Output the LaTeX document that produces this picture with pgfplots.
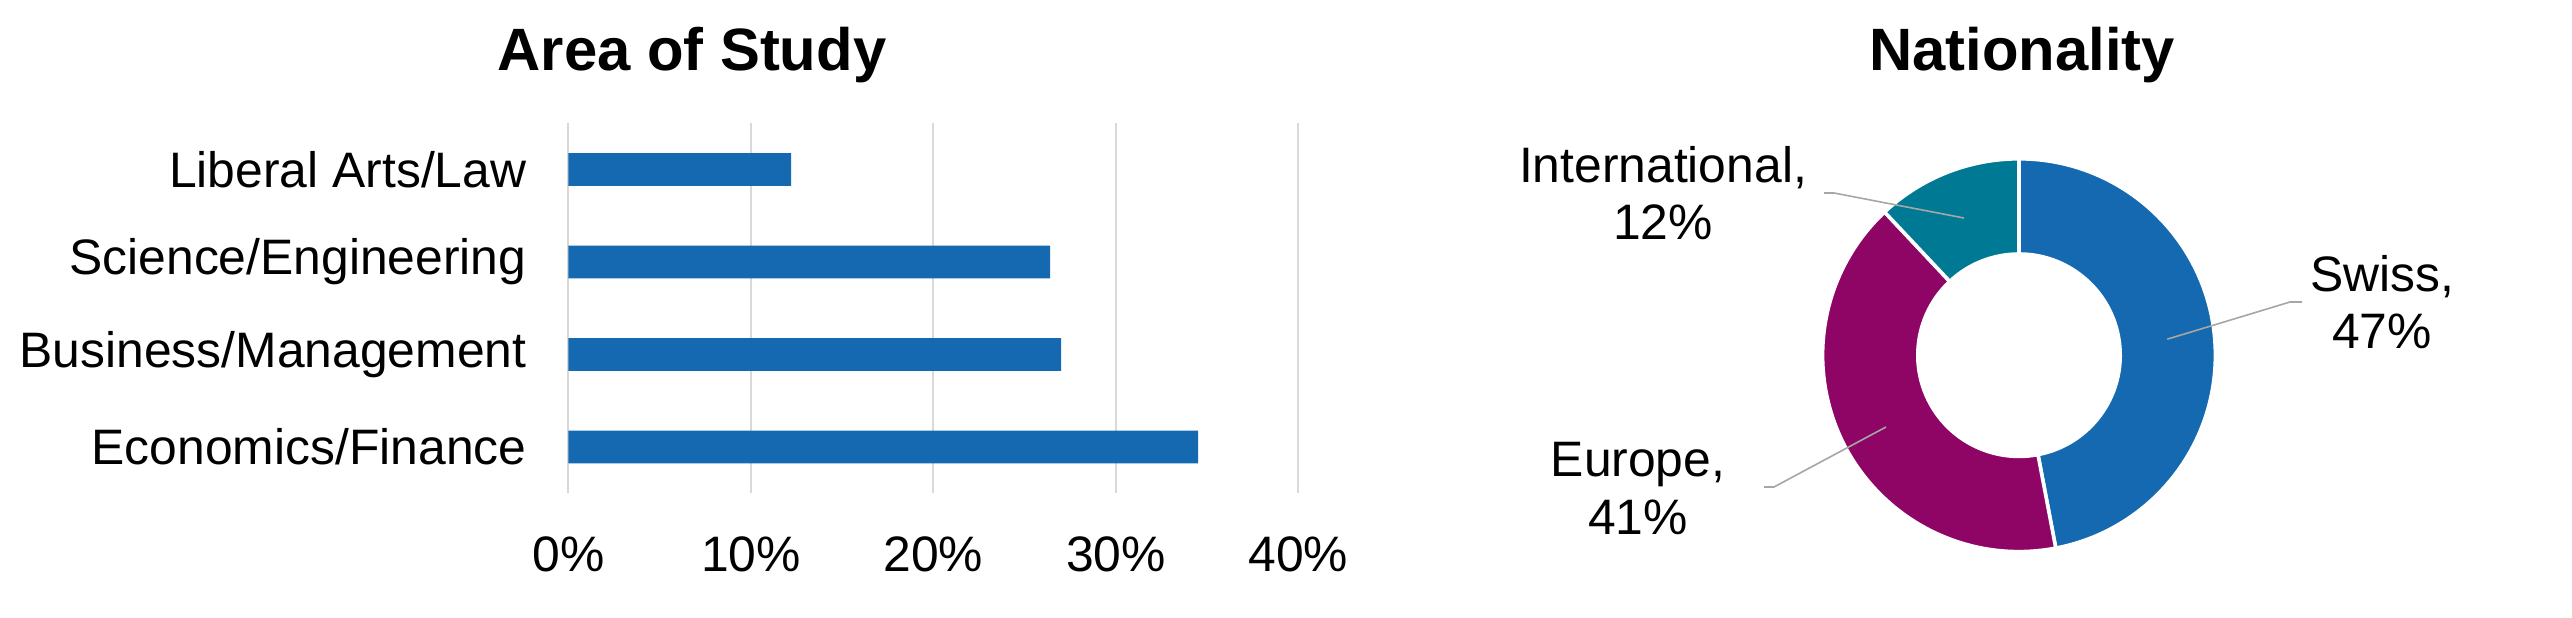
\documentclass[border=0pt]{standalone}
\usepackage{pgfplots}
\pgfplotsset{compat=1.18}
\usepackage{pgfplotstable}
\usepackage{fontspec}
\setmainfont{Liberation Sans}

\definecolor{barblue}{HTML}{1569B0}
\definecolor{swiss}{HTML}{1569B0}
\definecolor{europe}{HTML}{8E0565}
\definecolor{intl}{HTML}{007A94}
\definecolor{gridgray}{HTML}{D9D9D9}
\definecolor{leader}{HTML}{A6A6A6}

% area of study, share in %
\pgfplotstableread{
pos share
3 12.2
2 26.4
1 27.0
0 34.5
}\studytable

% nationality, share in %
\pgfplotstableread{
label value
Swiss 47
Europe 41
International 12
}\nattable

\newcommand\lbl{\fontsize{12.5}{14.5}\selectfont}
\newcommand\Ro{49.1bp}
\newcommand\Ri{25.3bp}
% ring slice: colour, start angle, end angle
\newcommand\ring[3]{%
  \filldraw[fill=#1, draw=white, line width=0.9bp]
    ([shift={(#2:\Ro)}]axis cs:504.75,65.7)
    arc[start angle=#2, end angle=#3, radius=\Ro]
    -- ([shift={(#3:\Ri)}]axis cs:504.75,65.7)
    arc[start angle=#3, end angle=#2, radius=\Ri] -- cycle;}

\begin{document}
\begin{tikzpicture}
\useasboundingbox (0,0) rectangle (643bp,154.5bp);

% angles from the table, clockwise from 12 o'clock
\pgfplotstablegetelem{0}{value}\of\nattable \let\vS\pgfplotsretval
\pgfplotstablegetelem{1}{value}\of\nattable \let\vE\pgfplotsretval
\pgfplotstablegetelem{2}{value}\of\nattable \let\vI\pgfplotsretval
\pgfmathsetmacro\aA{90}
\pgfmathsetmacro\aB{90-3.6*\vS}
\pgfmathsetmacro\aC{\aB-3.6*\vE}
\pgfmathsetmacro\aD{\aC-3.6*\vI}

\begin{axis}[
  at={(142.1bp,31.2bp)}, anchor=south west,
  scale only axis, width=182.5bp, height=92.5bp,
  xbar, bar width=8.2bp, bar shift=0pt,
  xmin=0, xmax=40, ymin=-0.5, ymax=3.5,
  xtick={0,10,20,30,40},
  xticklabels={0\%,10\%,20\%,30\%,40\%},
  ytick={0,1,2,3},
  yticklabels={Economics/Finance,Business/Management,Science/Engineering,Liberal Arts/Law},
  axis line style={draw=none},
  major tick length=0pt,
  xmajorgrids, grid style={gridgray, line width=0.5bp},
  ticklabel style={font=\lbl, inner sep=0pt},
  xticklabel style={anchor=center, yshift=-15.4bp},
  yticklabel style={anchor=east, xshift=-10.3bp},
  clip=false,
]
\addplot[fill=barblue, draw=none] table[x=share, y=pos] {\studytable};
\end{axis}

\begin{axis}[
  at={(0,0)}, anchor=south west,
  scale only axis, x=1bp, y=1bp,
  xmin=0, xmax=643, ymin=0, ymax=154.5,
  hide axis, clip=false,
]
\ring{swiss}{\aA}{\aB}
\ring{europe}{\aB}{\aC}
\ring{intl}{\aC}{\aD}

\draw[leader, line width=0.4bp] (axis cs:456,106.25) -- (axis cs:458.5,106.25) -- (axis cs:491,100);
\draw[leader, line width=0.4bp] (axis cs:541.8,69.7) -- (axis cs:572.5,79) -- (axis cs:575.5,79);
\draw[leader, line width=0.4bp] (axis cs:471.5,47.75) -- (axis cs:443.5,32.75) -- (axis cs:441,32.75);

\node[font=\lbl, align=center] at (axis cs:415.75,106.25) {International,\\12\%};
\node[font=\lbl, align=center] at (axis cs:595.5,79) {Swiss,\\47\%};
\node[font=\lbl, align=center] at (axis cs:409.5,32.4) {Europe,\\41\%};

\node[font=\fontsize{15}{18}\selectfont\bfseries] at (axis cs:173,140.75) {Area of Study};
\node[font=\fontsize{15}{18}\selectfont\bfseries] at (axis cs:505.5,140.75) {Nationality};
\end{axis}
\end{tikzpicture}
\end{document}
